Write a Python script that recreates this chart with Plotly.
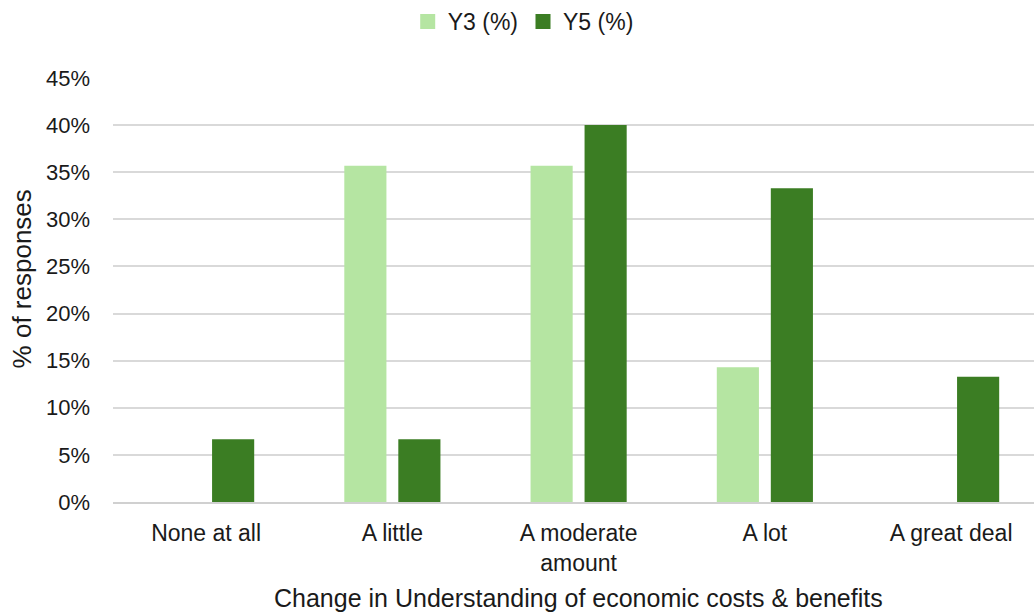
import plotly.graph_objects as go

categories = ["None at all", "A little", "A moderate<br>amount", "A lot", "A great deal"]
y3_pct = [0.0, 0.357, 0.357, 0.143, 0.0]
y5_pct = [0.0667, 0.0667, 0.40, 0.333, 0.133]
y_ticks = [0, 0.05, 0.10, 0.15, 0.20, 0.25, 0.30, 0.35, 0.40, 0.45]
y_tick_labels = ["0%", "5%", "10%", "15%", "20%", "25%", "30%", "35%", "40%", "45%"]
series_names = ["Y3 (%)", "Y5 (%)"]
series_colors = ["#b5e5a2", "#3b7d23"]

FONT = "Liberation Sans, Arial, sans-serif"
TEXT = "#1a1a1a"

fig = go.Figure()
for name, vals, color in zip(series_names, [y3_pct, y5_pct], series_colors):
    fig.add_trace(go.Bar(name=name, x=categories, y=vals, marker_color=color,
                         marker_line_width=0, showlegend=False))
    # square legend swatch
    fig.add_trace(go.Scatter(name=name, x=[None], y=[None], mode="markers",
                             marker=dict(symbol="square", size=15, color=color),
                             showlegend=True))

fig.update_layout(
    width=1034, height=613,
    margin=dict(l=113, r=0, t=78, b=111, autoexpand=False),
    paper_bgcolor="white", plot_bgcolor="white",
    barmode="group", bargap=0.42, bargroupgap=0.22,
    font=dict(family=FONT, color=TEXT, size=20),
    legend=dict(orientation="h", xref="container", yref="container",
                x=0.506, xanchor="center", y=1.0, yanchor="top",
                font=dict(size=23), traceorder="normal", itemwidth=30),
    annotations=[
        dict(text="Change in Understanding of economic costs & benefits",
             xref="paper", yref="paper", x=0.505, y=-0.226,
             xanchor="center", yanchor="middle", showarrow=False,
             font=dict(size=25)),
        dict(text="% of responses", xref="paper", yref="paper",
             x=-0.0988, y=0.525, xanchor="center", yanchor="middle",
             textangle=-90, showarrow=False, font=dict(size=26)),
    ],
)
fig.update_xaxes(
    range=[-0.5, 4.445], automargin=False,
    showline=True, linecolor="#d0d0d0", linewidth=1.5,
    showgrid=False, ticks="", tickfont=dict(size=23),
    ticklabelstandoff=10,
)
fig.update_yaxes(
    range=[0, 0.45], tickvals=y_ticks, ticktext=y_tick_labels, automargin=False,
    showgrid=True, gridcolor="#d9d9d9", gridwidth=1.5,
    zeroline=False, showline=False, ticks="",
    tickfont=dict(size=22), ticklabelstandoff=22,
)

fig.write_html("out.html")
